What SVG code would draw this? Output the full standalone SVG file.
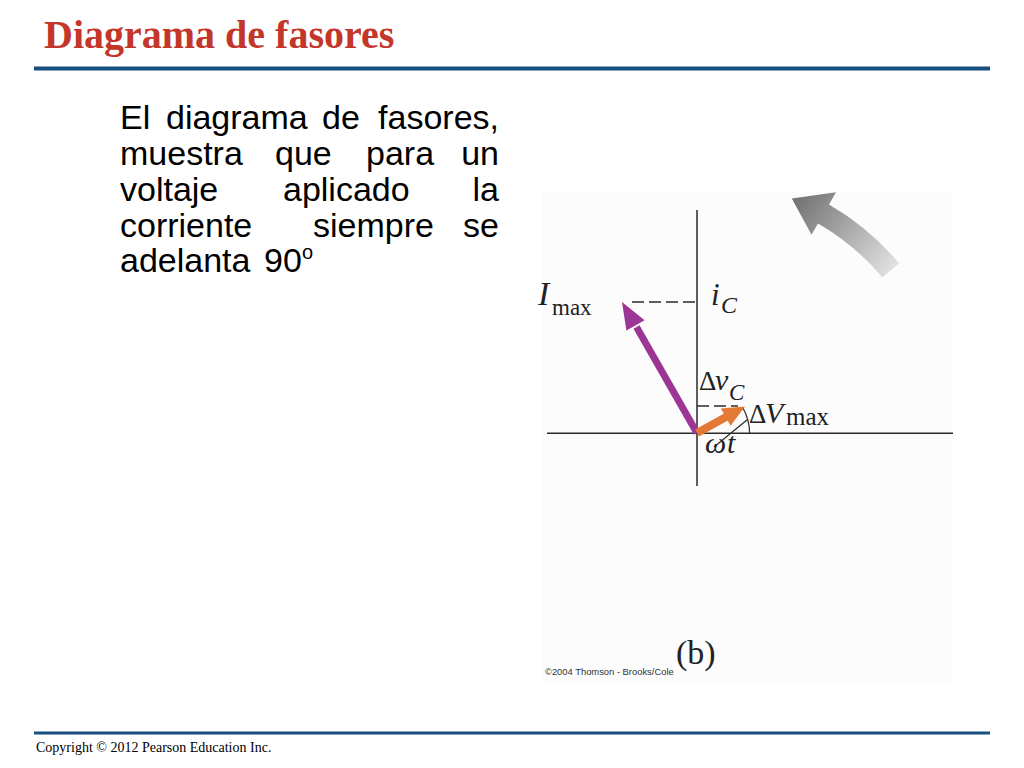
<svg xmlns="http://www.w3.org/2000/svg" width="1024" height="768" viewBox="0 0 1024 768">
<defs>
<style>
.title{font-family:"Liberation Serif",serif;font-weight:bold;font-size:40px;fill:#C4352A}
.body{font-family:"Liberation Sans",Arial,sans-serif;font-size:34px;fill:#000}
.end{text-anchor:end}
.foot{font-family:"Liberation Serif",serif;font-size:14px;fill:#000}
.rule{stroke:#17507F;fill:none}
.axis{stroke:#2a2a2a;stroke-width:1.5;fill:none}
.thin{stroke:#2a2a2a;stroke-width:1.2;fill:none}
.dash{stroke:#2a2a2a;stroke-width:1.5;stroke-dasharray:12 5;fill:none}
.lab{font-family:"Liberation Serif","DejaVu Serif",serif;fill:#222}
.it{font-style:italic}
</style>
<linearGradient id="rotg" gradientUnits="userSpaceOnUse" x1="892" y1="272" x2="800" y2="200">
<stop offset="0" stop-color="#e2e2e2"/>
<stop offset="1" stop-color="#767676"/>
</linearGradient>
</defs>
<rect width="1024" height="768" fill="#ffffff"/>

<g id="header">
<text class="title" x="44" y="48">Diagrama de fasores</text>
<line class="rule" x1="34" y1="68.5" x2="990" y2="68.5" stroke-width="4"/>
</g>

<g id="body-text" class="body">
<text x="120" y="129">El</text>
<text x="166" y="129">diagrama</text>
<text x="322" y="129">de</text>
<text class="end" x="499" y="129">fasores,</text>
<text x="120" y="165">muestra</text>
<text x="275" y="165">que</text>
<text x="366" y="165">para</text>
<text class="end" x="499" y="165">un</text>
<text x="120" y="201">voltaje</text>
<text x="283" y="201">aplicado</text>
<text class="end" x="499" y="201">la</text>
<text x="120" y="237">corriente</text>
<text x="313" y="237">siempre</text>
<text class="end" x="499" y="237">se</text>
<text x="120" y="272">adelanta</text>
<text x="264" y="272">90</text>
<text x="302" y="259" font-size="20">o</text>
</g>

<g id="figure">
<rect x="542" y="192" width="410" height="490" fill="#fcfcfc"/>
<g id="axes">
<line class="axis" x1="697" y1="210" x2="697" y2="486"/>
<line class="axis" x1="547" y1="433.3" x2="953" y2="433.3"/>
</g>
<g id="rotation-arrow">
<path d="M 899.2 263.3 A 264 264 0 0 0 829 204.4 L 836 192.3 L 791.8 198.4 L 811.5 234.7 L 818 223.4 A 242 242 0 0 1 882.4 277.4 Z" fill="url(#rotg)"/>
</g>
<g id="connectors">
<line class="dash" x1="632" y1="302" x2="697" y2="302"/>
<line class="dash" x1="697" y1="406" x2="738" y2="406"/>
<path class="thin" d="M 749.6 433.3 A 52.6 52.6 0 0 0 743 408"/>
<line class="thin" x1="714" y1="447" x2="747.5" y2="419.5"/>
</g>
<g id="phasor-I">
<line x1="697" y1="433" x2="636.5" y2="327" stroke="#9C3696" stroke-width="7"/>
<polygon points="622,302 644.6,320.2 626.4,330.6" fill="#9C3696"/>
</g>
<g id="phasor-V">
<line x1="697" y1="433" x2="726.5" y2="416.7" stroke="#E27A35" stroke-width="8"/>
<polygon points="745,406.5 730.6,425.8 720.8,408.4" fill="#E27A35"/>
</g>
<g id="labels" class="lab">
<text x="538" y="305" font-size="34" class="it">I</text>
<text x="552" y="315" font-size="23">max</text>
<text x="711" y="305" font-size="31" class="it">i</text>
<text x="721" y="313" font-size="24" class="it">C</text>
<text x="699" y="390" font-size="27">Δ</text>
<text x="715" y="390" font-size="30" class="it">v</text>
<text x="729" y="400" font-size="23" class="it">C</text>
<text x="749" y="423" font-size="27">Δ</text>
<text x="765" y="423" font-size="30" class="it">V</text>
<text x="786" y="425" font-size="25">max</text>
<text x="705" y="453" font-size="30" class="it">ω</text>
<text x="727" y="453" font-size="30" class="it">t</text>
<text x="676" y="664" font-size="34">(b)</text>
<text x="545" y="675" font-family="Liberation Sans, Arial, sans-serif" font-size="9.4" fill="#333">©2004 Thomson - Brooks/Cole</text>
</g>
</g>

<g id="footer">
<line class="rule" x1="34" y1="733" x2="990" y2="733" stroke-width="3"/>
<text class="foot" x="36" y="752">Copyright © 2012 Pearson Education Inc.</text>
</g>
</svg>
